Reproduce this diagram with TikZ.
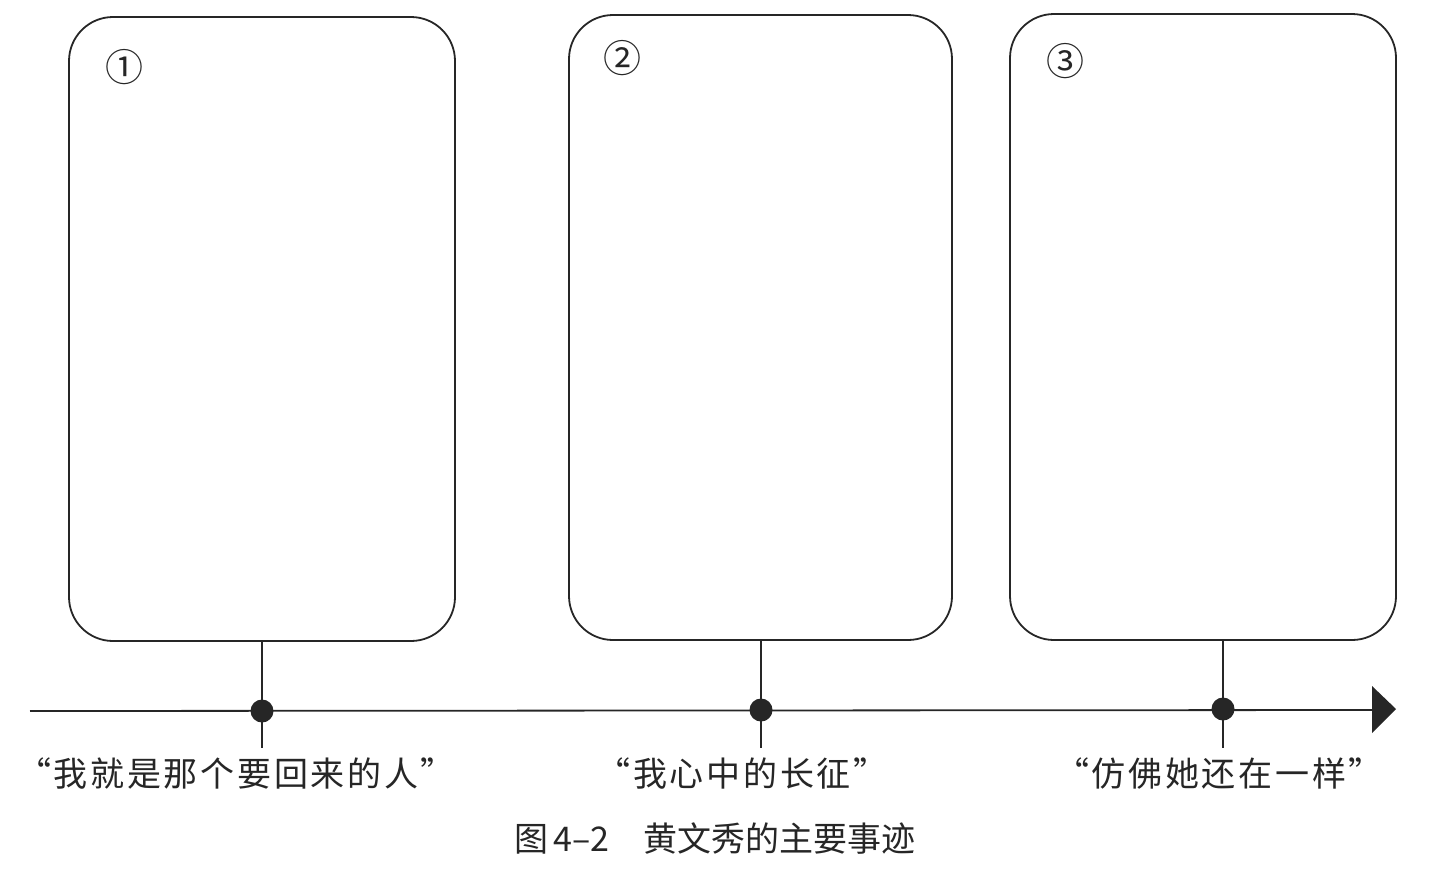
\documentclass[tikz,border=0pt]{standalone}
\usepackage{fontspec}
\newfontfamily\cjk{Noto Sans CJK SC}
\newfontfamily\cjkl[LetterSpace=8]{Noto Sans CJK SC}
\begin{document}
\begin{tikzpicture}[x=1pt,y=-1pt,
  card/.style={draw=black!85,line width=1.8pt,rounded corners=44pt},
  stem/.style={draw=black!85,line width=1.4pt},
  axis/.style={draw=black!85,line width=1.8pt},
  dotmark/.style={circle,fill=black!85,inner sep=0pt,minimum size=23pt},
  lbl/.style={font=\cjkl\fontsize{34}{36}\selectfont,text=black!85,inner sep=0pt},
  caption/.style={font=\cjk\fontsize{34}{36}\selectfont,text=black!85,inner sep=0pt},
  num/.style={font=\cjk\fontsize{38}{38}\selectfont,text=black!85,inner sep=0pt}]
\useasboundingbox (0,0) rectangle (1429,868);
% cards
\draw[card] (69,17) rectangle (455,641);
\draw[card] (569,15) rectangle (952,640);
\draw[card] (1010,14) rectangle (1396,640);
\node[num] (n1) at (124,67) {①};
\node[num] (n2) at (622,58) {②};
\node[num] (n3) at (1065,61) {③};
% axis
\coordinate (s) at (30,711);
\coordinate (e) at (1373,710);
\draw[axis] (s) -- (e);
\fill[black!85] (1372,686) -- (1396,709) -- (1372,733) -- cycle;
% stems
\coordinate (t1) at (262,641);
\coordinate (b1) at (262,748);
\coordinate (t2) at (761,640);
\coordinate (b2) at (761,748);
\coordinate (t3) at (1223,640);
\coordinate (b3) at (1223,748);
\draw[stem] (t1) -- (b1);
\draw[stem] (t2) -- (b2);
\draw[stem] (t3) -- (b3);
\node[dotmark] (d1) at (262,711) {};
\node[dotmark] (d2) at (761,710) {};
\node[dotmark] (d3) at (1223,709) {};
% labels
\node[lbl] (l1) at (236,773) {“我就是那个要回来的人”};
\node[lbl] (l2) at (742,773) {“我心中的长征”};
\node[lbl] (l3) at (1219,773) {“仿佛她还在一样”};
\node[caption] (cap) at (715,838) {图\,4–2\quad 黄文秀的主要事迹};
\end{tikzpicture}
\end{document}
